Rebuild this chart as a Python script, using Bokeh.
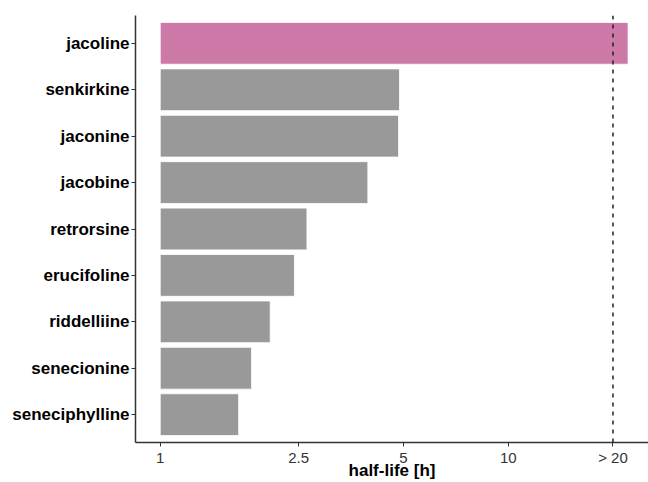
from bokeh.plotting import figure
from bokeh.models import FixedTicker, Span, ColumnDataSource
from bokeh.embed import file_html
from bokeh.resources import INLINE

compounds = ["jacoline", "senkirkine", "jaconine", "jacobine", "retrorsine",
             "erucifoline", "riddelliine", "senecionine", "seneciphylline"]
half_life = [22.1, 4.87, 4.84, 3.95, 2.64, 2.43, 2.07, 1.83, 1.68]
colors = ["#CC79A7"] + ["#999999"] * 8
tick_values = [1, 2.5, 5, 10, 20]
tick_labels = ["1", "2.5", "5", "10", "> 20"]
threshold = 20

ypos = list(range(len(compounds), 0, -1))
src = ColumnDataSource(dict(y=ypos, right=half_life, left=[1] * len(compounds), color=colors))

p = figure(width=648, height=482, output_backend="svg", toolbar_location=None,
           x_axis_type="log", x_range=(0.849, 25.3), y_range=(0.4, 9.6),
           min_border_left=135, min_border_right=0, min_border_top=15, min_border_bottom=40)

p.hbar(y="y", left="left", right="right", height=0.9, fill_color="color",
       line_color="white", line_width=0.8, source=src)

p.add_layout(Span(location=threshold, dimension="height", line_color="#222222",
                  line_dash="4 5", line_width=1.5))

p.xgrid.visible = False
p.ygrid.visible = False
p.outline_line_color = None

p.xaxis.ticker = FixedTicker(ticks=tick_values)
p.xaxis.major_label_overrides = {v: l for v, l in zip(tick_values, tick_labels)}
p.xaxis.axis_label = "half-life [h]"

p.yaxis.ticker = FixedTicker(ticks=ypos)
p.yaxis.major_label_overrides = {y: c for y, c in zip(ypos, compounds)}

for ax in (p.xaxis[0], p.yaxis[0]):
    ax.axis_line_color = "#333333"
    ax.axis_line_width = 1.5
    ax.major_tick_line_color = "#333333"
    ax.major_tick_out = 4
    ax.major_tick_in = 0
    ax.minor_tick_line_color = None
    ax.major_label_text_font = "Liberation Sans"

p.xaxis.major_label_text_font_size = "15px"
p.xaxis.major_label_text_color = "#333333"
p.xaxis.major_label_standoff = 2
p.xaxis.axis_label_text_font = "Liberation Sans"
p.xaxis.axis_label_text_font_size = "17px"
p.xaxis.axis_label_text_font_style = "bold"
p.xaxis.axis_label_text_color = "black"
p.xaxis.axis_label_standoff = -8

p.yaxis.major_label_text_font_size = "17px"
p.yaxis.major_label_text_font_style = "bold"
p.yaxis.major_label_text_color = "black"
p.yaxis.major_label_standoff = 2

p.background_fill_color = "white"
p.border_fill_color = "white"

open("out.html", "w").write(file_html(p, INLINE))
